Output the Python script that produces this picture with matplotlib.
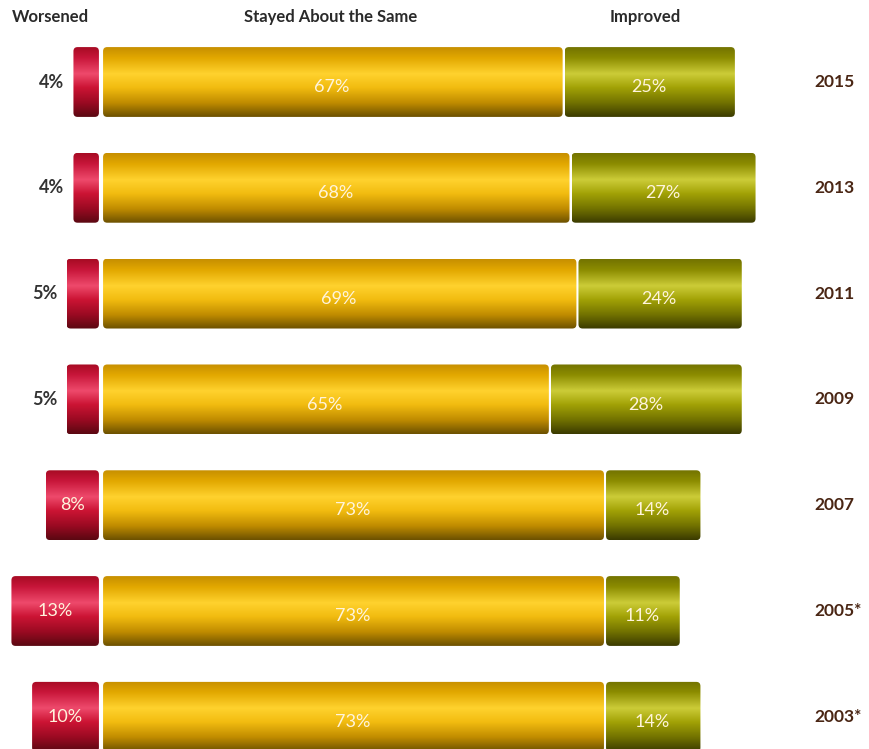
import numpy as np
import matplotlib
matplotlib.use("Agg")
import matplotlib.pyplot as plt
from matplotlib.patches import FancyBboxPatch
from matplotlib.colors import to_rgb

years = ['2015', '2013', '2011', '2009', '2007', '2005*', '2003*']
worsened = [4, 4, 5, 5, 8, 13, 10]
same = [67, 68, 69, 65, 73, 73, 73]
improved = [25, 27, 24, 28, 14, 11, 14]
headers = ['Worsened', 'Stayed About the Same', 'Improved']

plt.rcParams['font.family'] = ['Lato', 'DejaVu Sans']

fig = plt.figure(figsize=(8.69, 7.49), dpi=100)
ax = fig.add_axes([0, 0, 1, 1])
PX_X = 6.89
PX_Y = 105.8
ax.set_xlim(-101 / PX_X, 768 / PX_X)
ax.set_ylim(6 - (749 - 82) / PX_Y, 6 + 82 / PX_Y)
ax.axis('off')

n = len(years)
ypos = np.array([n - 1 - i for i in range(n)], dtype=float)
H = 0.66
gap = 0.3

palettes = {
    'red': ['#a80c24', '#c8163a', '#ee4a6c', '#cc1434', '#9a0a22', '#5c0812'],
    'yellow': ['#c89000', '#e2a800', '#ffd22e', '#f2bc10', '#c08c00', '#6e5200'],
    'green': ['#747400', '#8c8c00', '#cccc38', '#a2a206', '#727200', '#3c3c00'],
}
stops = [0.0, 0.15, 0.38, 0.58, 0.80, 1.0]


def gradient(name, N=64):
    cols = np.array([to_rgb(c) for c in palettes[name]])
    t = np.linspace(0, 1, N)
    arr = np.stack([np.interp(t, stops, cols[:, k]) for k in range(3)], axis=-1)
    return arr[:, None, :]


grads = {k: gradient(k) for k in palettes}
r = 0.6
aspect = PX_X / PX_Y


def glossy(bars, name):
    for b in bars:
        x0, y0 = b.get_x(), b.get_y()
        w, h = b.get_width(), b.get_height()
        if w < 0:
            x0, w = x0 + w, -w
        b.set_visible(False)
        patch = FancyBboxPatch((x0, y0), w, h,
                               boxstyle=f"round,pad=0,rounding_size={r}",
                               mutation_aspect=aspect, facecolor='none',
                               edgecolor='none')
        ax.add_patch(patch)
        im = ax.imshow(grads[name], extent=(x0, x0 + w, y0, y0 + h),
                       origin='upper', aspect='auto', zorder=2,
                       interpolation='bilinear')
        im.set_clip_path(patch)


wb = ax.barh(ypos, [-(v - gap) for v in worsened], left=-gap, height=H)
sb = ax.barh(ypos, [v - gap for v in same], left=gap, height=H)
ib = ax.barh(ypos, [v - gap for v in improved],
             left=[s + gap for s in same], height=H)
glossy(wb, 'red')
glossy(sb, 'yellow')
glossy(ib, 'green')

lab_kw = dict(fontsize=13, color='#fff4dc', va='center', ha='center', zorder=5)
for i in range(n):
    y = ypos[i]
    w = worsened[i]
    if w >= 8:
        ax.text(-w / 2 - gap / 2, y, f"{w}%", **lab_kw)
    else:
        ax.text(-w - 1.3, y, f"{w}%", fontsize=13, color='#333333',
                va='center', ha='right', fontweight='bold', zorder=5)
    ax.text(same[i] / 2, y - 0.05, f"{same[i]}%", **lab_kw)
    ax.text(same[i] + improved[i] / 2, y - 0.05, f"{improved[i]}%", **lab_kw)
    ax.text(103.5, y, years[i], fontsize=12.5, color='#4a2614',
            fontweight='bold', va='center', ha='left')

hy = 6 + 65 / PX_Y
hx = [-7.3, 33.3, 79.0]
for t, x in zip(headers, hx):
    ax.text(x, hy, t, fontsize=12, fontweight='bold', color='#2a2a2a',
            ha='center', va='center')

fig.savefig('out.png', dpi=100, facecolor='white')
